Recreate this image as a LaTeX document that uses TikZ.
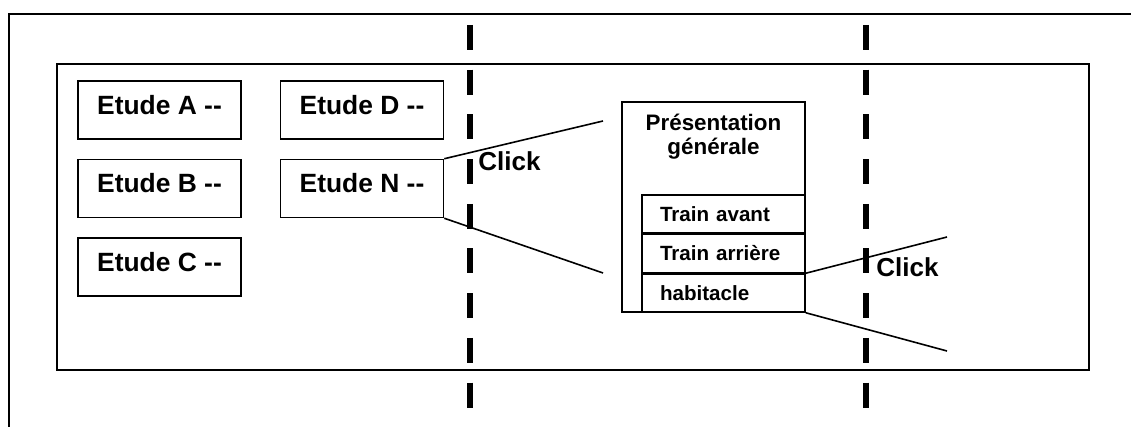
\documentclass[tikz,border=0pt]{standalone}
\usepackage{fontspec}
\setmainfont{Liberation Sans}
\usetikzlibrary{positioning}
\begin{document}
\begin{tikzpicture}[x=0.5pt, y=-0.5pt,
  etude/.style={draw, line width=0.75pt, minimum width=81.5pt, minimum height=29pt,
                inner sep=0pt, font=\fontsize{13.2}{14}\selectfont\bfseries,
                text height=9.4pt, text depth=5pt},
  rangee/.style={draw, line width=0.75pt, minimum height=19pt, inner xsep=9pt,
                 inner ysep=0pt, text width=63.5pt, align=left,
                 font=\fontsize{10.3}{12}\selectfont\bfseries},
  fil/.style={line width=0.8pt},
  clic/.style={font=\fontsize{13}{15}\selectfont\bfseries, inner sep=0pt},
  sep/.style={line width=3pt, dash pattern=on 12.5pt off 9.85pt},
  node distance=9.5pt and 19pt]
\useasboundingbox (0,0) rectangle (1131,427);
% cadres
\draw[line width=1.2pt] (9,427) -- (9,14) -- (1131,14);
\draw[line width=1pt] (57,64) rectangle (1089,370);
% etudes
\node[etude] (etA) at (159.5,110) {Etude A -\kern0pt-};
\node[etude, below=of etA] (etB) {Etude B -\kern0pt-};
\node[etude, below=of etB] (etC) {Etude C -\kern0pt-};
\node[etude, right=of etA] (etD) {Etude D -\kern0pt-};
\node[etude, below=of etD] (etN) {Etude N -\kern0pt-};
% presentation
\node[draw, line width=0.75pt, minimum width=91.5pt, minimum height=105pt,
      inner sep=0pt] (pres) at (713.5,207) {};
\node[align=center, inner sep=0pt, font=\fontsize{11.2}{12}\selectfont\bfseries,
      below=6pt of pres.north] (titre) {Présentation\\générale};
\node[rangee, anchor=south east] (hab) at (pres.south east) {habitacle};
\node[rangee, above=0pt of hab] (arr) {Train arrière};
\node[rangee, above=0pt of arr] (avt) {Train avant};
% zooms
\coordinate (nh) at (603,121);
\coordinate (nb) at (603,273);
\coordinate (rh) at (947,237);
\coordinate (rb) at (947,351);
\draw[fil] (etN.north east) -- (nh);
\draw[fil] (etN.south east) -- (nb);
\draw[fil] (arr.south east) -- (rh);
\draw[fil] (hab.south east) -- (rb);
\node[clic, anchor=base west] (clic1) at (478,171) {Click};
\node[clic, anchor=base west] (clic2) at (876,277) {Click};
% separations
\draw[sep] (470,25) -- (470,408);
\draw[sep] (866,25) -- (866,408);
\end{tikzpicture}
\end{document}
